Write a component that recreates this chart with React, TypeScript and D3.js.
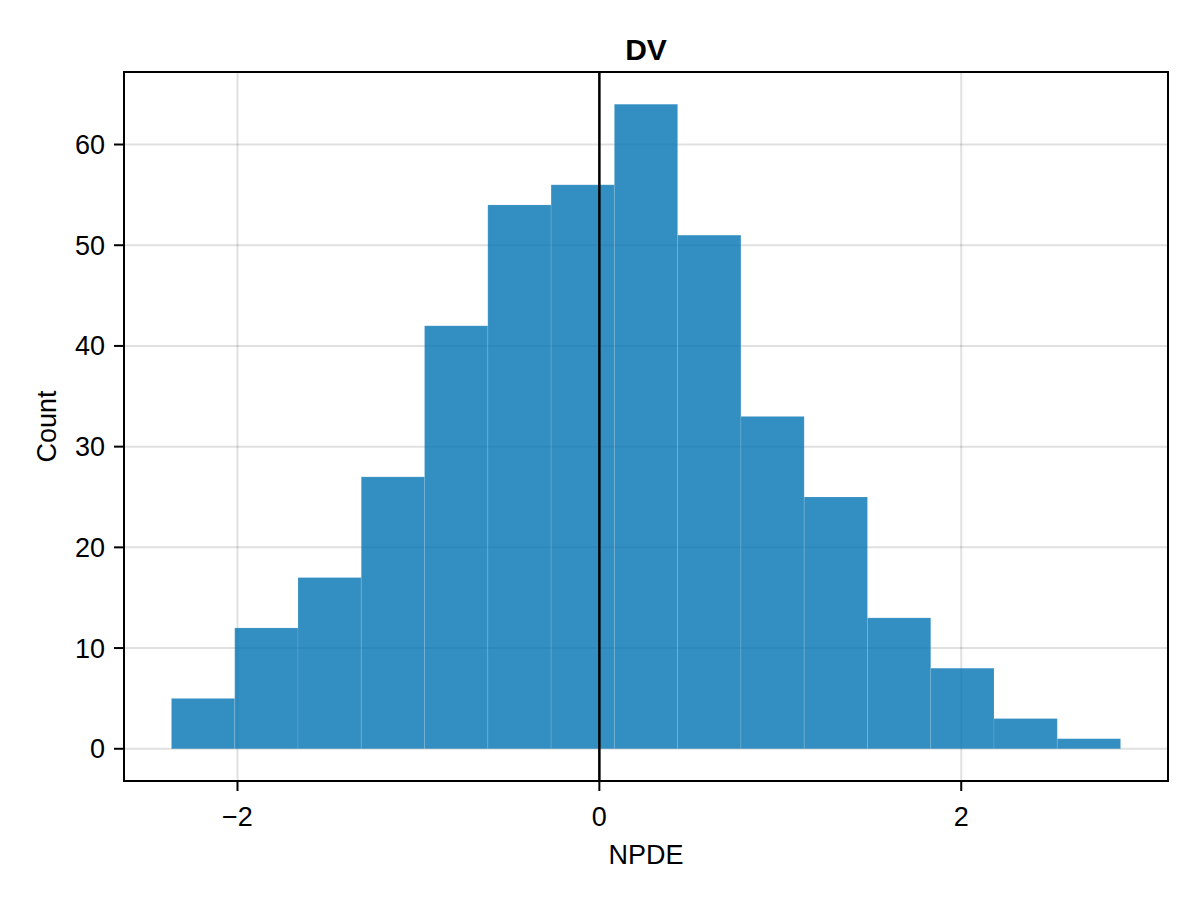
import React from "react";
import * as d3 from "d3";

const title = "DV";
const xLabel = "NPDE";
const yLabel = "Count";
const binStart = -2.365;
const binWidth = 0.3497;
const counts = [5, 12, 17, 27, 42, 54, 56, 64, 51, 33, 25, 13, 8, 3, 1];
const xTicks = [-2, 0, 2];
const yTicks = [0, 10, 20, 30, 40, 50, 60];
const refLine = 0;

const W = 1200;
const H = 900;
const L = 124, R = 1168, T = 72, B = 781;
const FONT = "'Liberation Sans', Arimo, Helvetica, Arial, sans-serif";

export default function App() {
  const xMin = binStart;
  const xMax = binStart + binWidth * counts.length;
  const yMax = d3.max(counts) as number;
  const xPad = (xMax - xMin) * 0.05;
  const yPad = yMax * 0.05;
  const x = d3.scaleLinear().domain([xMin - xPad, xMax + xPad]).range([L, R]);
  const y = d3.scaleLinear().domain([-yPad, yMax + yPad]).range([B, T]);

  const bins = counts.map((c, i) => ({ x0: binStart + i * binWidth, x1: binStart + (i + 1) * binWidth, c }));
  const fmt = (v: number) => (v < 0 ? "\u2212" + Math.abs(v) : String(v));

  return (
    <svg width={W} height={H} style={{ display: "block", margin: "-8px", background: "#fff" }} fontFamily={FONT}>
      <rect x={0} y={0} width={W} height={H} fill="#fff" />
      {xTicks.map((t) => (
        <line key={"gx" + t} x1={x(t)} x2={x(t)} y1={T} y2={B} stroke="rgba(0,0,0,0.12)" strokeWidth={2} />
      ))}
      {yTicks.map((t) => (
        <line key={"gy" + t} x1={L} x2={R} y1={y(t)} y2={y(t)} stroke="rgba(0,0,0,0.12)" strokeWidth={2} />
      ))}
      {bins.map((b, i) => (
        <rect
          key={i}
          x={x(b.x0)}
          y={y(b.c)}
          width={x(b.x1) - x(b.x0)}
          height={y(0) - y(b.c)}
          fill="rgba(0,114,178,0.8)"
          stroke="rgba(255,255,255,0.12)"
          strokeWidth={1}
        />
      ))}
      <line x1={x(refLine)} x2={x(refLine)} y1={T} y2={B} stroke="#000" strokeWidth={2.5} />
      <rect x={L} y={T} width={R - L} height={B - T} fill="none" stroke="#000" strokeWidth={2} />
      {xTicks.map((t) => (
        <g key={"xt" + t}>
          <line x1={x(t)} x2={x(t)} y1={B} y2={B + 10} stroke="#000" strokeWidth={2} />
          <text x={x(t)} y={826} textAnchor="middle" fontSize={27} fill="#000">
            {fmt(t)}
          </text>
        </g>
      ))}
      {yTicks.map((t) => (
        <g key={"yt" + t}>
          <line x1={L - 10} x2={L} y1={y(t)} y2={y(t)} stroke="#000" strokeWidth={2} />
          <text x={105} y={y(t)} dy="0.35em" textAnchor="end" fontSize={27} fill="#000">
            {fmt(t)}
          </text>
        </g>
      ))}
      <text x={(L + R) / 2} y={864} textAnchor="middle" fontSize={27} fill="#000">
        {xLabel}
      </text>
      <text transform={`translate(56,${(T + B) / 2}) rotate(-90)`} textAnchor="middle" fontSize={27} fill="#000">
        {yLabel}
      </text>
      <text x={(L + R) / 2} y={60} textAnchor="middle" fontSize={30} fontWeight="bold" fill="#000">
        {title}
      </text>
    </svg>
  );
}
